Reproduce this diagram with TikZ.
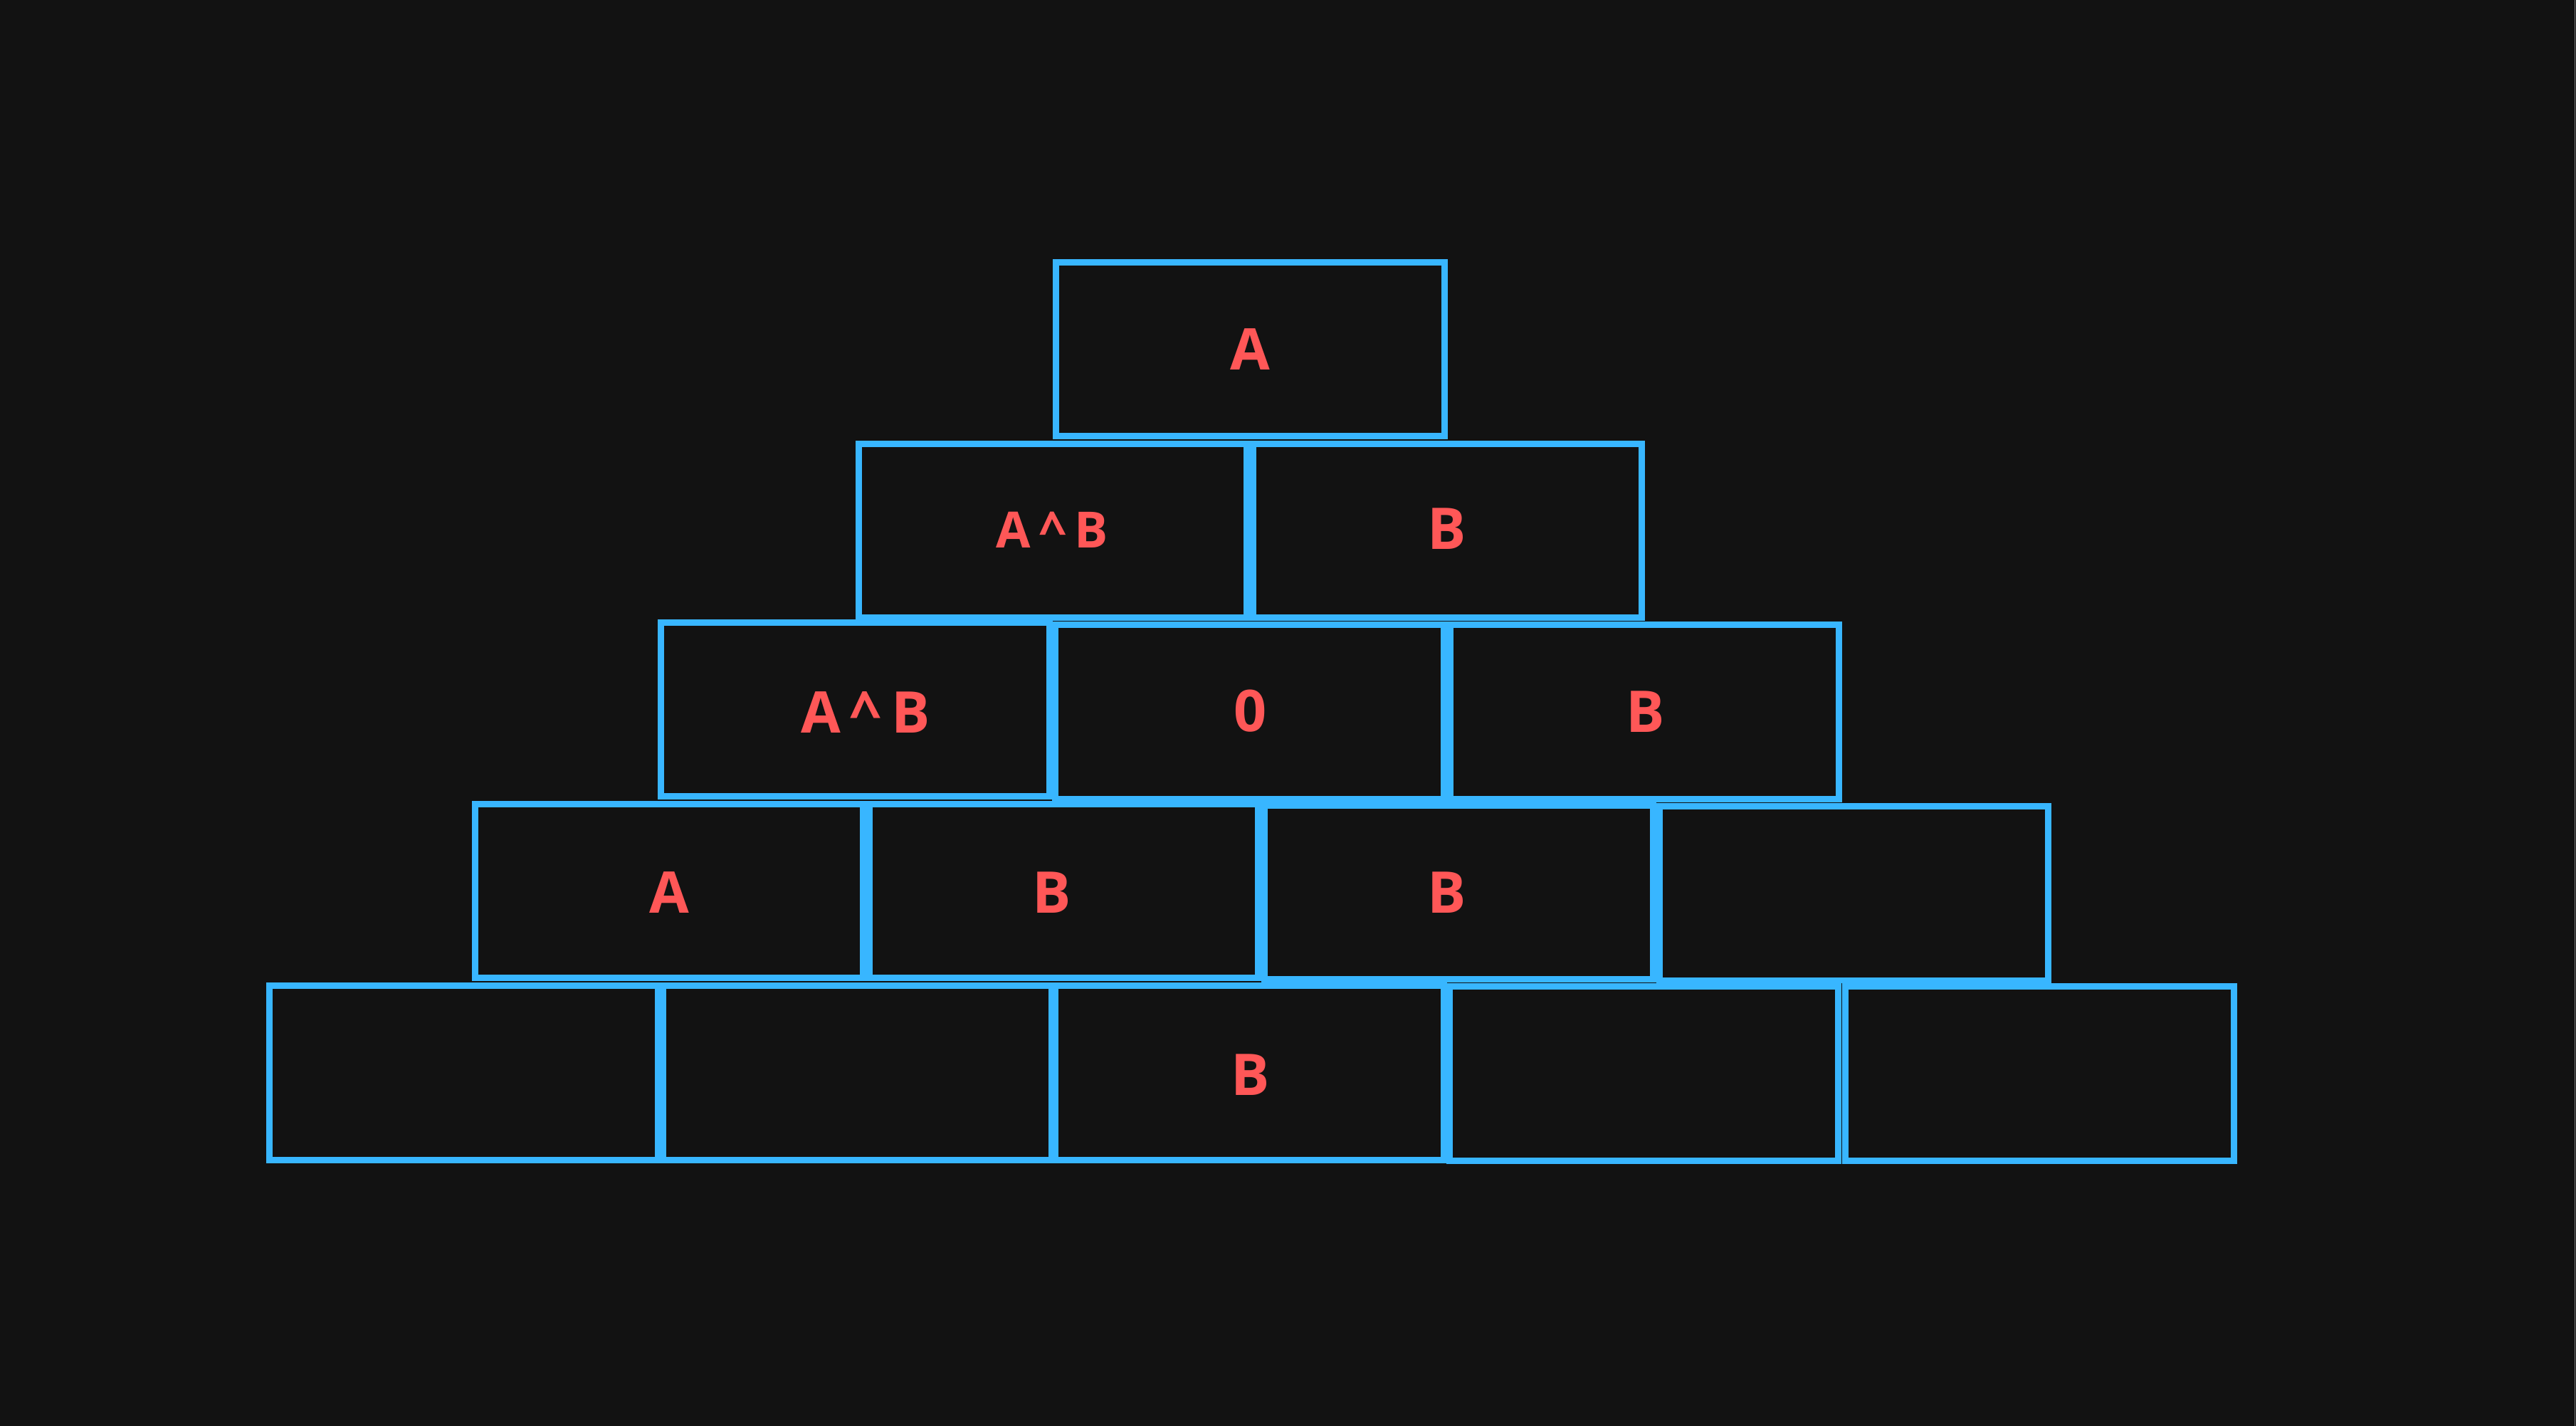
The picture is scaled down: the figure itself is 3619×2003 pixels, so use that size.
\documentclass[tikz,border=0pt]{standalone}
\usepackage{fontspec}
\setmainfont{Open Sans}
\usetikzlibrary{positioning}
\definecolor{bg}{HTML}{121212}
\definecolor{brickblue}{HTML}{38B6FF}
\definecolor{tagred}{HTML}{FF5757}
\definecolor{edgegray}{HTML}{7A7A7A}
\newcommand{\xorlbl}[1]{A\hspace{#1}\textasciicircum\hspace{#1}B}
\begin{document}
\begin{tikzpicture}[
  x=0.005cm,y=-0.005cm,
  brick/.style={draw=brickblue, line width=1.28pt, minimum width=2.73cm, minimum height=1.225cm, inner sep=0pt, outer sep=0pt},
  tag/.style={text=tagred, font=\fontsize{11.5}{13}\selectfont\bfseries, inner sep=0pt},
  tagsm/.style={tag, font=\fontsize{10}{12}\selectfont\bfseries},
]
\fill[bg] (0,0) rectangle (3619,2003);
\useasboundingbox (0,0) rectangle (3619,2003);
\draw[edgegray, line width=0.2pt] (3617.5,0) -- (3617.5,2003);
% bricks, row by row from the top
\foreach \n/\x/\y in {11/1756.5/490.5,
  21/1479/745.5, 22/2033.5/745.5,
  31/1201.5/996.5, 32/1755.5/1000, 33/2310.5/1000,
  41/940/1251.5, 42/1494.7/1251.5, 43/2049.5/1253.5, 44/2604.5/1254.6,
  51/651.4/1507, 52/1204.4/1507, 53/1755.5/1507, 54/2309.5/1508.2, 55/2865.5/1508.2}
  {\node[brick] (b\n) at (\x,\y) {};}
% labels
\node[tagsm] (t21) at (1478.4,744) {\xorlbl{1.7pt}};
\foreach \n/\x/\y/\t in {11/1756/490.5/A,
  22/2033/743/B,
  31/1215.8/1000.5/\xorlbl{2pt}, 32/1756.7/998.3/0, 33/2312/1000/B,
  41/940/1253.6/A, 42/1478/1253.6/B, 43/2033/1253.6/B,
  53/1757/1509.3/B}
  {\node[tag] (t\n) at (\x,\y) {\t};}
\end{tikzpicture}
\end{document}
